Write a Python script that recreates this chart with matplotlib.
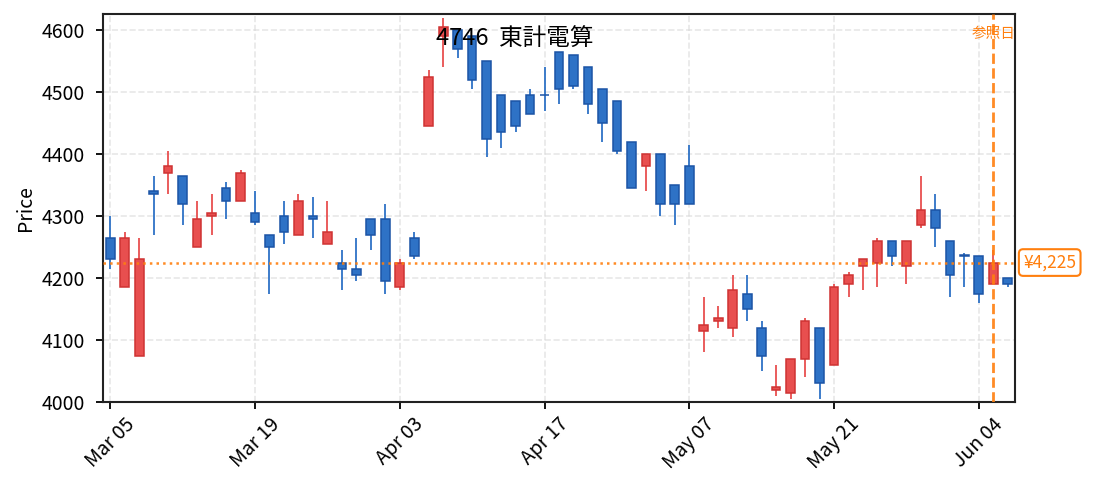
import matplotlib
matplotlib.use("Agg")
import matplotlib.pyplot as plt
import matplotlib.transforms as mtransforms
import numpy as np
import pandas as pd

plt.rcParams['font.family'] = ['Noto Sans CJK JP', 'DejaVu Sans']

# trading days (2025), one bar per day
dates = ["03-05", "03-06", "03-07", "03-10", "03-11", "03-12", "03-13", "03-14", "03-17", "03-18",
         "03-19", "03-21", "03-24", "03-25", "03-26", "03-27", "03-28", "03-31", "04-01", "04-02",
         "04-03", "04-04", "04-07", "04-08", "04-09", "04-10", "04-11", "04-14", "04-15", "04-16",
         "04-17", "04-18", "04-21", "04-22", "04-23", "04-24", "04-25", "04-28", "05-01", "05-02",
         "05-07", "05-08", "05-09", "05-12", "05-13", "05-14", "05-15", "05-16", "05-19", "05-20",
         "05-21", "05-22", "05-23", "05-26", "05-27", "05-28", "05-29", "05-30", "06-02", "06-03",
         "06-04", "06-05", "06-06"]

opens = [4265, 4185, 4075, 4340, 4370, 4365, 4250, 4300, 4345, 4325,
         4305, 4270, 4300, 4270, 4300, 4255, 4225, 4215, 4295, 4295,
         4185, 4265, 4445, 4590, 4600, 4590, 4550, 4495, 4485, 4495,
         4495, 4565, 4560, 4540, 4505, 4485, 4420, 4380, 4400, 4350,
         4380, 4115, 4130, 4120, 4175, 4120, 4020, 4015, 4070, 4120,
         4060, 4190, 4220, 4225, 4260, 4220, 4285, 4310, 4260, 4237,
         4235, 4190, 4200]
highs = [4300, 4275, 4265, 4365, 4405, 4365, 4325, 4335, 4355, 4375,
         4340, 4270, 4325, 4335, 4330, 4325, 4245, 4265, 4295, 4320,
         4230, 4275, 4535, 4620, 4600, 4590, 4550, 4495, 4485, 4505,
         4540, 4565, 4560, 4540, 4505, 4485, 4420, 4400, 4400, 4350,
         4415, 4170, 4155, 4205, 4205, 4130, 4060, 4070, 4135, 4120,
         4190, 4210, 4230, 4265, 4260, 4260, 4365, 4335, 4260, 4240,
         4235, 4245, 4200]
lows = [4215, 4185, 4075, 4270, 4335, 4285, 4250, 4270, 4295, 4325,
        4285, 4175, 4255, 4270, 4265, 4255, 4180, 4195, 4245, 4175,
        4180, 4230, 4445, 4540, 4555, 4505, 4395, 4410, 4435, 4465,
        4470, 4480, 4505, 4465, 4420, 4400, 4345, 4340, 4300, 4285,
        4320, 4080, 4120, 4105, 4130, 4050, 4010, 4005, 4040, 4005,
        4060, 4170, 4180, 4185, 4220, 4190, 4280, 4250, 4170, 4185,
        4160, 4190, 4185]
closes = [4230, 4265, 4230, 4335, 4380, 4320, 4295, 4305, 4325, 4370,
          4290, 4250, 4275, 4325, 4295, 4275, 4215, 4205, 4270, 4195,
          4225, 4235, 4525, 4605, 4570, 4520, 4425, 4435, 4445, 4465,
          4495, 4505, 4510, 4480, 4450, 4405, 4345, 4400, 4320, 4320,
          4320, 4125, 4135, 4180, 4150, 4075, 4025, 4070, 4130, 4030,
          4185, 4205, 4230, 4260, 4235, 4260, 4310, 4280, 4205, 4235,
          4175, 4225, 4190]

title = "4746  東計電算"
ref_index = 61
ref_price = 4225

up_face, up_edge = "#e84f4f", "#cf3333"
dn_face, dn_edge = "#2e72c6", "#1b54a6"
orange = "#ff7f0e"

o = np.array(opens)
h = np.array(highs)
l = np.array(lows)
c = np.array(closes)
x = np.arange(len(dates))
up = c > o

fig = plt.figure(figsize=(10.93, 4.91), dpi=100)
ax = fig.add_axes([103 / 1093, 1 - 402 / 491, 912 / 1093, 388 / 491])

ax.grid(True, color="#d8d8d8", linestyle="--", linewidth=1.2, alpha=0.6, zorder=0)
ax.set_axisbelow(True)

wick_colors = np.where(up, up_face, dn_face)
ax.vlines(x, l, h, colors=wick_colors, linewidth=1.3, zorder=2)
body_h = c - o
ax.bar(x[up], body_h[up], bottom=o[up], width=0.6, color=up_face,
       edgecolor=up_edge, linewidth=1.1, zorder=3)
ax.bar(x[~up], body_h[~up], bottom=o[~up], width=0.6, color=dn_face,
       edgecolor=dn_edge, linewidth=1.1, zorder=3)

ax.axhline(ref_price, color=orange, linestyle=":", linewidth=1.8, alpha=0.9, zorder=4)
ax.axvline(ref_index, color=orange, linestyle="--", linewidth=2.0, alpha=0.9, zorder=4)

ax.text(ref_index, 4594, "参照日", color=orange, fontsize=10.5, ha="center", va="center", zorder=5)

trans = mtransforms.blended_transform_factory(ax.transAxes, ax.transData)
ax.text(1.009, ref_price, f"¥{ref_price:,}", transform=trans, color=orange, fontsize=12.5,
        ha="left", va="center", clip_on=False,
        bbox=dict(boxstyle="round,pad=0.25", fc="white", ec=orange, lw=1.5))

fig.text(514.5 / 1093, 1 - 39.5 / 491, title, fontsize=17, ha="center", va="center", zorder=6)

ax.set_xlim(-0.5, len(dates) - 0.5)
ax.set_ylim(4000, 4626)
ticks = x[::10]
labels = [pd.Timestamp("2025-" + dates[i]).strftime("%b %d") for i in ticks]
ax.set_xticks(ticks)
ax.set_xticklabels(labels, rotation=45, ha="center")
ax.set_yticks(np.arange(4000, 4601, 100))
ax.set_ylabel("Price", fontsize=14)
ax.tick_params(labelsize=14, length=5, width=1.3)
ax.tick_params(axis="y", pad=8)
for s in ax.spines.values():
    s.set_linewidth(1.5)
    s.set_color("#222222")

plt.savefig("out.png", dpi=100)
plt.close(fig)
